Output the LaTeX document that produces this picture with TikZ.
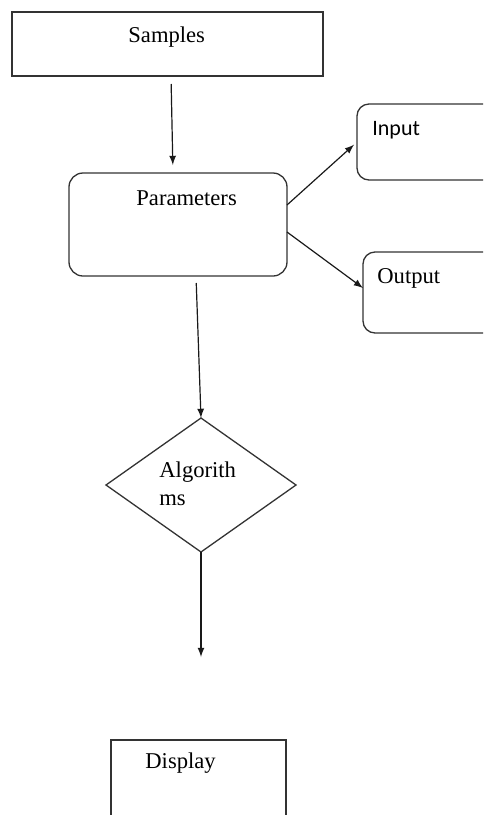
\documentclass[tikz,border=0pt]{standalone}
\usepackage{fontspec}
\setmainfont{Liberation Serif}
\newfontfamily\calibri{Carlito}
\usetikzlibrary{arrows}
\usetikzlibrary{shapes.geometric}

\tikzset{
  box/.style={draw=black!80, line width=0.65pt, inner sep=0pt, outer sep=0pt},
  roundbox/.style={box, rounded corners=7pt},
  txt/.style={inner sep=0pt, anchor=base west, font=\fontsize{11.3pt}{14pt}\selectfont},
  arr/.style={->, >=latex, line width=0.6pt, black!90},
}

\begin{document}
\begin{tikzpicture}[x=0.5pt, y=-0.5pt]
          \clip (0,0) rectangle (483,815);

          % boxes
          \node[box, minimum width=155.5pt, minimum height=32pt] (samples) at (167.5,44) {};
          \node[roundbox, minimum width=109pt, minimum height=51.5pt] (params) at (178,224.5) {};
          \node[roundbox, rounded corners=6pt, minimum width=71.5pt, minimum height=38pt] (input) at (428.5,142) {};
          \node[roundbox, rounded corners=6pt, minimum width=68.5pt, minimum height=40.5pt] (output) at (431.5,292.5) {};
          \node[box, diamond, minimum width=95pt, minimum height=67pt] (algo) at (201,485) {};
          \node[box, minimum width=87.5pt, minimum height=50pt] (display) at (198.5,790) {};

          % texts
          \node[txt] (samplestxt) at (128,42) {Samples};
          \node[txt] (paramstxt) at (136,205) {Parameters};
          \node[txt, font=\calibri\fontsize{11pt}{14pt}\selectfont] (inputtxt) at (372,135) {Input};
          \node[txt] (outputtxt) at (377,283) {Output};
          % base anchor sits on the last line here
          \node[txt, align=left] (algotxt) at (159,505) {Algorith\\ms};
          \node[txt] (displaytxt) at (145,768) {Display};

          % arrows
          \draw[arr, shorten <=4pt, shorten >=4pt] ([xshift=1.75pt]samples.south) -- ([xshift=-2.5pt]params.north);
          \draw[arr, shorten >=2pt] ([yshift=9.75pt]params.east) -- (input.west);
          \draw[arr] ([yshift=-3.75pt]params.east) -- ([yshift=2.25pt]output.west);
          \draw[arr, shorten <=3.5pt] ([xshift=9pt]params.south) -- (algo.north);
          \coordinate (algoend) at (201,657);
          \draw[arr] (algo.south) -- (algoend);
\end{tikzpicture}
\end{document}
